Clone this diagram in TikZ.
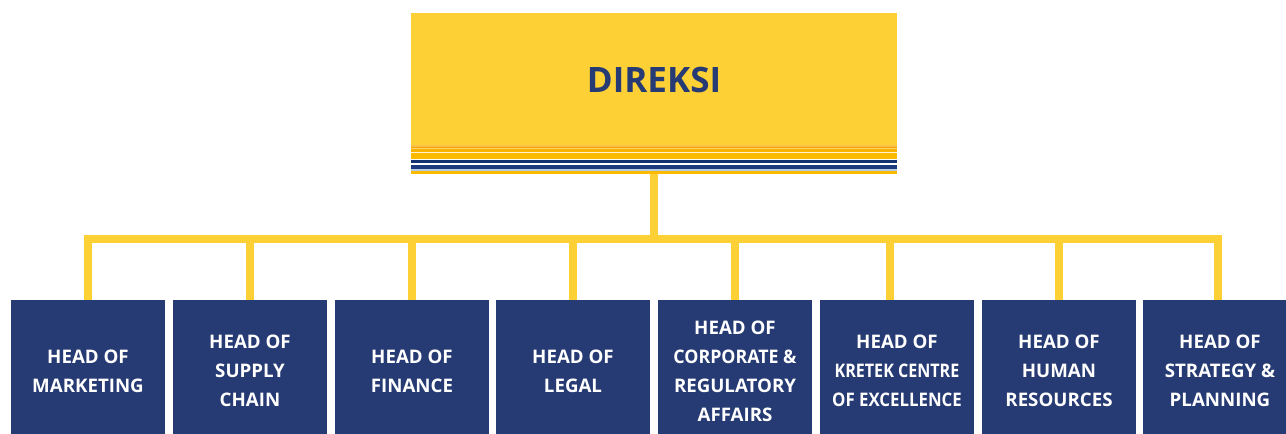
\documentclass[tikz,border=0pt]{standalone}
\usepackage{fontspec}
\setmainfont{Open Sans}
\definecolor{ygold}{HTML}{FDD036}
\definecolor{navy}{HTML}{263A73}
\definecolor{sorange}{HTML}{F3A200}
\definecolor{sorangel}{HTML}{F9C04A}
\definecolor{syell}{HTML}{FCD56A}
\definecolor{samber}{HTML}{F8B200}
\definecolor{sgold}{HTML}{FBBA00}
\definecolor{scream}{HTML}{FFF3D0}
\definecolor{snavy}{HTML}{13306F}
\definecolor{snavyb}{HTML}{1B3A7E}
\definecolor{slblue}{HTML}{B7CCE3}
\begin{document}
\begin{tikzpicture}[x=1pt,y=-1pt,
  conn/.style={draw=ygold, line width=8pt},
  headbox/.style={fill=navy, text=white, minimum width=154pt, minimum height=142pt,
    inner sep=0pt, align=center, font=\fontsize{18.7}{29}\selectfont\bfseries},
  topbox/.style={fill=ygold, minimum width=486pt, minimum height=161pt, inner sep=0pt},
  toptext/.style={text=navy, font=\fontsize{35}{40}\selectfont\bfseries}
]
\clip (0,0) rectangle (1286,434);
\fill[white] (0,0) rectangle (1286,434);

% top box
\node[topbox] (dir) at (654,93.5) {};
\fill[sorangel] (411,144.7) rectangle (897,146.7);
\fill[sorange]  (411,146.7) rectangle (897,148);
\fill[syell]    (411,148)   rectangle (897,149.3);
\fill[samber]   (411,149.3) rectangle (897,152);
\fill[scream]   (411,152)   rectangle (897,153.3);
\fill[sgold]    (411,153.3) rectangle (897,159.3);
\fill[white]    (411,159.3) rectangle (897,160);
\fill[snavy]    (411,160)   rectangle (897,162.7);
\fill[white]    (411,162.7) rectangle (897,164.7);
\fill[snavyb]   (411,164.7) rectangle (897,168.7);
\fill[slblue]   (411,168.7) rectangle (897,170.7);
\fill[white]    (411,170.7) rectangle (897,171.3);
\fill[sgold]    (411,171.3) rectangle (897,174);
\node[toptext] (dirtext) at (654,79.7) {DIREKSI};

% bottom boxes
\node[headbox] (b1) at (88,371)   {HEAD OF\\MARKETING};
\node[headbox] (b2) at (250,371)  {HEAD OF\\SUPPLY\\CHAIN};
\node[headbox] (b3) at (412,371)  {HEAD OF\\FINANCE};
\node[headbox] (b4) at (573,371)  {HEAD OF\\LEGAL};
\node[headbox] (b5) at (735,371)  {HEAD OF\\\scalebox{0.95}[1]{CORPORATE \&}\\REGULATORY\\AFFAIRS};
\node[headbox] (b6) at (897,371)  {HEAD OF\\\scalebox{0.86}[1]{KRETEK CENTRE}\\\scalebox{0.9}[1]{OF EXCELLENCE}};
\node[headbox] (b7) at (1059,371) {HEAD OF\\HUMAN\\RESOURCES};
\node[headbox] (b8) at (1220,371) {HEAD OF\\STRATEGY \&\\PLANNING};

% connectors
\coordinate (busL) at (88,238.7);
\coordinate (busR) at (1217.5,238.7);
\coordinate (k6) at (889.7,300);
\draw[conn] (dir.south) -- (dir.south |- busL);
\draw[conn] (b1.north) -- (b1.north |- busL) -- (busR) -- (busR |- b8.north);
\draw[conn] (b2.north) -- (b2.north |- busL);
\draw[conn] (b3.north) -- (b3.north |- busL);
\draw[conn] (b4.north) -- (b4.north |- busL);
\draw[conn] (b5.north) -- (b5.north |- busL);
\draw[conn] (k6) -- (k6 |- busL);
\draw[conn] (b7.north) -- (b7.north |- busL);
\end{tikzpicture}
\end{document}
